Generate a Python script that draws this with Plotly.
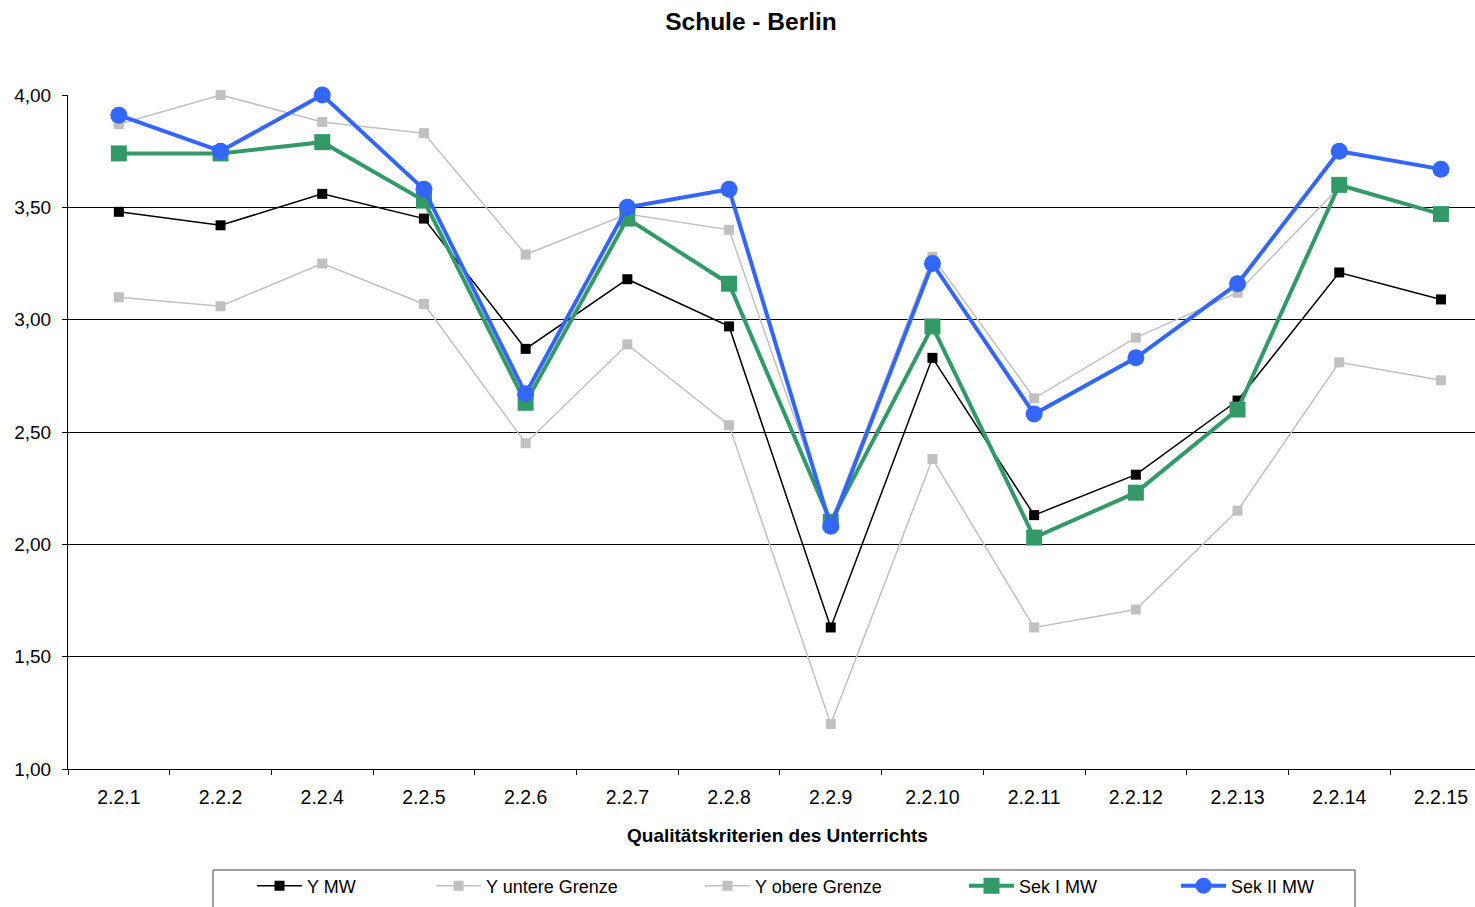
import plotly.graph_objects as go

# Quality criteria on the category axis
categories = ["2.2.1", "2.2.2", "2.2.4", "2.2.5", "2.2.6", "2.2.7", "2.2.8",
              "2.2.9", "2.2.10", "2.2.11", "2.2.12", "2.2.13", "2.2.14", "2.2.15"]

# Series values
y_mw = [3.48, 3.42, 3.56, 3.45, 2.87, 3.18, 2.97, 1.63, 2.83, 2.13, 2.31, 2.64, 3.21, 3.09]
y_untere = [3.10, 3.06, 3.25, 3.07, 2.45, 2.89, 2.53, 1.20, 2.38, 1.63, 1.71, 2.15, 2.81, 2.73]
y_obere = [3.87, 4.00, 3.88, 3.83, 3.29, 3.47, 3.40, 2.10, 3.28, 2.65, 2.92, 3.12, 3.59, 3.47]
sek1_mw = [3.74, 3.74, 3.79, 3.53, 2.63, 3.45, 3.16, 2.10, 2.97, 2.03, 2.23, 2.60, 3.60, 3.47]
sek2_mw = [3.91, 3.75, 4.00, 3.58, 2.67, 3.50, 3.58, 2.08, 3.25, 2.58, 2.83, 3.16, 3.75, 3.67]

series_names = ["Y MW", "Y untere Grenze", "Y obere Grenze", "Sek I MW", "Sek II MW"]

W, H = 1475, 907
L, R, T, B = 68, 0, 95, 138
PW, PH = W - L - R, H - T - B
FONT = "Arial, Liberation Sans, sans-serif"


def px_x(p):
    return (p - L) / PW


def px_y(p):
    return (H - B - p) / PH


styles = [
    dict(color="#000000", width=1.5, symbol="square", size=10),
    dict(color="#C0C0C0", width=1.5, symbol="square", size=10),
    dict(color="#C0C0C0", width=1.5, symbol="square", size=10),
    dict(color="#339966", width=4, symbol="square", size=16),
    dict(color="#3366FF", width=4, symbol="circle", size=17),
]
values = [y_mw, y_untere, y_obere, sek1_mw, sek2_mw]
legend_ids = ["legend", "legend2", "legend3", "legend4", "legend5"]
legend_line_starts = [258, 437, 706, 970, 1182]

fig = go.Figure()
for name, vals, st, lg in zip(series_names, values, styles, legend_ids):
    fig.add_trace(go.Scatter(
        x=categories, y=vals, name=name, mode="lines+markers",
        line=dict(color=st["color"], width=st["width"]),
        marker=dict(color=st["color"], symbol=st["symbol"], size=st["size"],
                    line=dict(width=0)),
        cliponaxis=False, legend=lg,
    ))

# One legend per entry, laid out in a row inside a framed box
legend_common = dict(
    orientation="h", xanchor="left", yanchor="top",
    xref="container", yref="container",
    bgcolor="rgba(0,0,0,0)", borderwidth=0, itemwidth=45,
    font=dict(family=FONT, size=18, color="#000000"),
    itemclick=False, itemdoubleclick=False,
)
layout_legends = {}
for lg, xs in zip(legend_ids, legend_line_starts):
    layout_legends[lg] = dict(legend_common, x=(xs - 6) / W, y=1 - 867.5 / H)

fig.update_layout(
    width=W, height=H,
    margin=dict(l=L, r=R, t=T, b=B, pad=0, autoexpand=False),
    paper_bgcolor="white", plot_bgcolor="white",
    separators=",.",
    showlegend=True,
    font=dict(family=FONT, color="#000000"),
    title=dict(text="<b>Schule - Berlin</b>", x=751 / W, xref="container",
               xanchor="center", y=1 - 21 / H, yref="container", yanchor="middle",
               font=dict(family=FONT, size=24.5, color="#000000")),
    xaxis=dict(
        type="category", range=[-0.5, -0.5 + PW / 101.7],
        showline=True, linecolor="#000000", linewidth=1,
        ticks="outside", tickson="boundaries", ticklen=5, tickcolor="#000000",
        showgrid=False, tickfont=dict(family=FONT, size=19.5, color="#000000"),
        ticklabelstandoff=11, fixedrange=True,
    ),
    yaxis=dict(
        range=[1, 4], dtick=0.5, tick0=1, tickformat=".2f",
        showline=True, linecolor="#000000", linewidth=1,
        ticks="outside", ticklen=5, tickcolor="#000000",
        showgrid=True, gridcolor="#000000", gridwidth=1, zeroline=False,
        tickfont=dict(family=FONT, size=19, color="#000000"),
        ticklabelstandoff=7, fixedrange=True,
    ),
    annotations=[dict(
        text="<b>Qualitätskriterien des Unterrichts</b>", xref="paper", yref="paper",
        x=px_x(777), y=px_y(835), xanchor="center", yanchor="middle", showarrow=False,
        font=dict(family=FONT, size=19, color="#000000"),
    )],
    shapes=[dict(
        type="rect", xref="paper", yref="paper",
        x0=px_x(213), x1=px_x(1355), y0=px_y(870), y1=px_y(915),
        line=dict(color="#404040", width=1), fillcolor="rgba(0,0,0,0)", layer="above",
    )],
    **layout_legends,
)

fig.write_html("out.html")
